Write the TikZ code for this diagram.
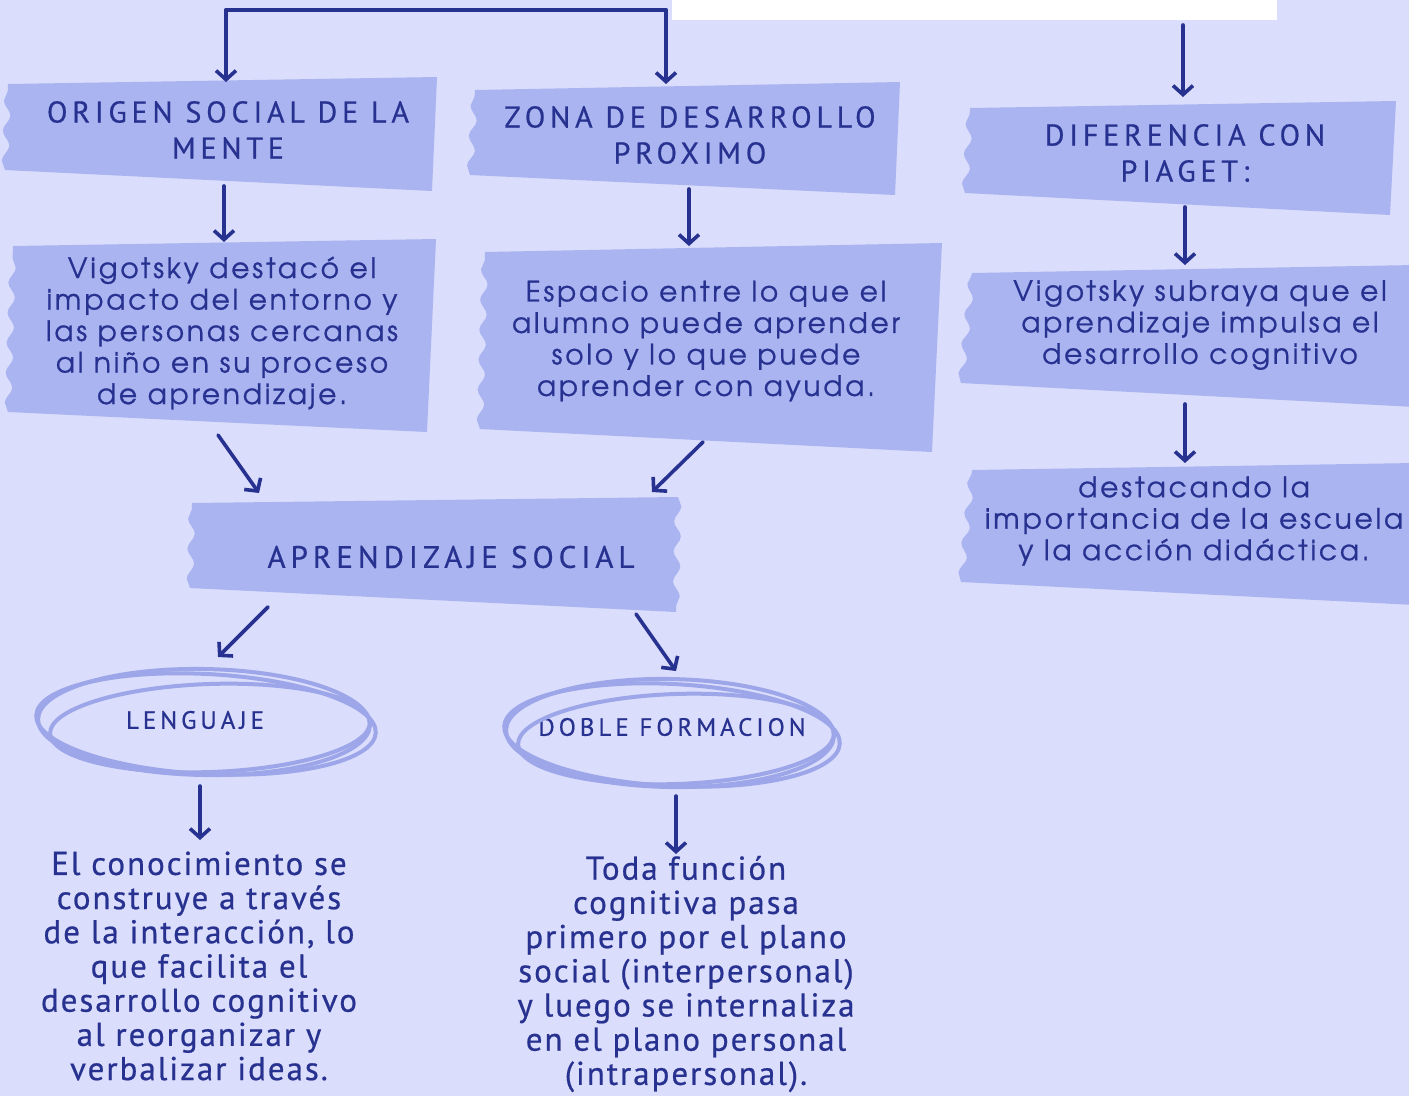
\documentclass[tikz,border=0pt]{standalone}
\usepackage{fontspec}
\setmainfont[LetterSpace=10,FakeBold=0.8]{texgyreadventor-regular.otf}
\newfontfamily\capsfont[LetterSpace=16,FakeBold=0.6]{PT Sans}
\newfontfamily\narrowfont[LetterSpace=6,FakeBold=0.6]{PT Sans}
\usetikzlibrary{arrows.meta,decorations.pathmorphing}
\definecolor{bgc}{HTML}{DADDFB}
\definecolor{boxc}{HTML}{AAB4F1}
\definecolor{inkc}{HTML}{27318F}
\definecolor{ringc}{HTML}{9DA6E8}
\tikzset{
  tape/.style={fill=boxc},
  wave/.style={decoration={snake,amplitude=3.5pt,segment length=30pt}},
  arr/.style={draw=inkc,line width=3.6pt,line cap=round,-{Straight Barb[length=9pt,width=20pt,line width=3.6pt]}},
  link/.style={draw=inkc,line width=3.6pt,line cap=round},
  head/.style={text=inkc,align=center,font=\capsfont\fontsize{30}{36}\selectfont},
  body/.style={text=inkc,align=center,font=\fontsize{28}{31.5}\selectfont},
  note/.style={text=inkc,align=center,font=\narrowfont\fontsize{33}{34.2}\selectfont},
  ring/.style={draw=ringc,line width=4pt},
  ringtext/.style={text=inkc,font=\capsfont\fontsize{25}{30}\selectfont}
}
\begin{document}
\begin{tikzpicture}[x=1pt,y=-1pt]
\useasboundingbox (0,0) rectangle (1409,1096);
\fill[bgc] (0,0) rectangle (1409,1096);
\fill[white] (672,0) rectangle (1277,20);

% tape boxes
\fill[tape] (8,84) -- (437,77) -- (432,191) -- (5,170) decorate[wave]{-- (8,84)} -- cycle;
\fill[tape] (475,90) -- (900,82) -- (895,195) -- (470,175) decorate[wave]{-- (475,90)} -- cycle;
\fill[tape] (970,108) -- (1396,101) -- (1390,215) -- (965,193) decorate[wave]{-- (970,108)} -- cycle;
\fill[tape] (13,246) -- (436,239) -- (427,432) -- (8,412) decorate[wave]{-- (13,246)} -- cycle;
\fill[tape] (485,252) -- (942,243) -- (932,452) -- (480,429) decorate[wave]{-- (485,252)} -- cycle;
\fill[tape] (972,273) -- (1415,265) -- (1415,407) -- (961,383) decorate[wave]{-- (972,273)} -- cycle;
\fill[tape] (972,470) -- (1415,463) -- (1415,605) -- (961,582) decorate[wave]{-- (972,470)} -- cycle;
\fill[tape] (192,503) -- (678,497) decorate[wave]{-- (676,612)} -- (190,588) decorate[wave]{-- (192,503)} -- cycle;

% headings
\node[head] (origen) at (228,130) {ORIGEN SOCIAL DE LA\\MENTE};
\node[head] (zona) at (690,135) {ZONA DE DESARROLLO\\PROXIMO};
\node[head] (dif) at (1185,153) {DIFERENCIA CON\\PIAGET:};
\node[head,font=\capsfont\fontsize{31}{36}\selectfont] (apr) at (451,557) {APRENDIZAJE SOCIAL};

% body texts
\node[body] (b1) at (222,333) {Vigotsky destacó el\\impacto del entorno y\\las personas cercanas\\al niño en su proceso\\de aprendizaje.};
\node[body] (b2) at (706,341) {Espacio entre lo que el\\alumno puede aprender\\solo y lo que puede\\aprender con ayuda.};
\node[body] (b3) at (1200,325) {Vigotsky subraya que el\\aprendizaje impulsa el\\desarrollo cognitivo};
\node[body] (b4) at (1194,521) {destacando la\\importancia de la escuela\\y la acción didáctica.};

% rings
\node[ringtext] (len) at (195,720) {LENGUAJE};
\node[ringtext] (dob) at (672,727) {DOBLE FORMACION};
\draw[ring] (206,724) ellipse [x radius=170pt, y radius=50pt, rotate=-3];
\draw[ring] (210,728) ellipse [x radius=160pt, y radius=44pt, rotate=2];
\draw[ring] (204,722) ellipse [x radius=166pt, y radius=53pt, rotate=-1];
\draw[ring] (672,735) ellipse [x radius=168pt, y radius=51pt, rotate=-3];
\draw[ring] (676,739) ellipse [x radius=158pt, y radius=45pt, rotate=2];
\draw[ring] (670,733) ellipse [x radius=164pt, y radius=54pt, rotate=-1];

% bottom notes
\node[note] (n1) at (199,966) {El conocimiento se\\construye a través\\de la interacción, lo\\que facilita el\\desarrollo cognitivo\\al reorganizar y\\verbalizar ideas.};
\node[note] (n2) at (686,974) {Toda función\\cognitiva pasa\\primero por el plano\\social (interpersonal)\\y luego se internaliza\\en el plano personal\\(intrapersonal).};

% connector coordinates
\coordinate (tl) at (226,10);
\coordinate (tr) at (666,10);
\coordinate (origenin) at (226,82);
\coordinate (zonain) at (666,84);
\coordinate (diftop) at (1183,25);
\coordinate (difin) at (1183,97);

\draw[link] (tl) -- (tr);
\draw[arr] (tl) -- (origenin);
\draw[arr] (tr) -- (zonain);
\draw[arr] (diftop) -- (difin);

\draw[arr] (224,186) -- (224,242);
\draw[arr] (689,189) -- (689,246);
\draw[arr] (1185,207) -- (1185,265);
\draw[arr] (1185,404) -- (1185,463);
\draw[arr] (218,435) -- (259,493);
\draw[arr] (703,442) -- (652,492);
\draw[arr] (268,607) -- (218,657);
\draw[arr] (636,614) -- (676,671);
\draw[arr] (200,786) -- (200,840);
\draw[arr] (676,796) -- (676,854);
\end{tikzpicture}
\end{document}
